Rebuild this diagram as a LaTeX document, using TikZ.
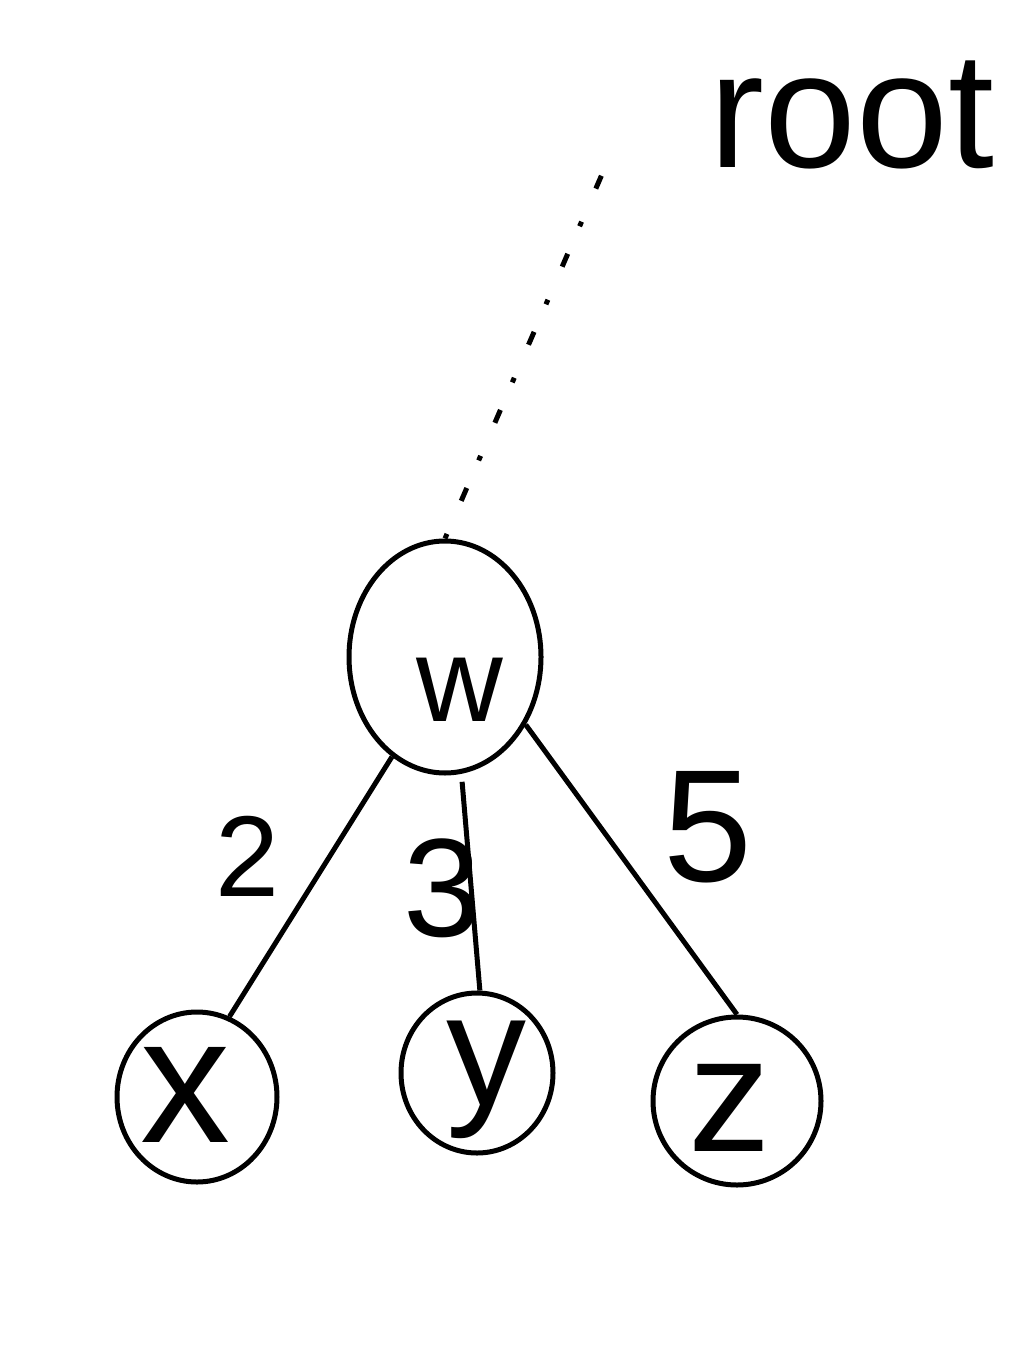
\documentclass[tikz,border=0pt]{standalone}
\usepackage{fontspec}
\setmainfont{Liberation Sans}
\usetikzlibrary{shapes.geometric}
\begin{document}
\begin{tikzpicture}[x=1pt,y=-1pt,
  vert/.style={draw, ellipse, inner sep=0pt, line width=5pt},
  hand/.style={font=\fontsize{#1}{#1}\selectfont, inner sep=0pt},
  treeedge/.style={draw, line width=5pt},
  rootlink/.style={line width=5pt, dash pattern=on 5pt off 36pt on 14pt off 30pt},
]
\path[fill=white] (0,0) rectangle (1012,1364);
\useasboundingbox (0,0) rectangle (1012,1364);

% vertices
\node[vert, minimum width=192pt, minimum height=232pt] (w) at (445,657) {};
\node[vert, minimum width=160pt, minimum height=170pt] (x) at (197,1097) {};
\node[vert, minimum width=152pt, minimum height=160pt] (y) at (477,1073) {};
\node[vert, minimum width=168pt, minimum height=168pt] (z) at (737,1101) {};

% vertex texts
\node[hand=120pt] (wt) at (460,690) {w};
\node[hand=180pt] (xt) at (185,1095) {x};
\node[hand=160pt] (yt) at (486,1080) {y};
\node[hand=165pt] (zt) at (730,1108) {z};

% root label
\node[hand=165pt] (root) at (852,115) {root};
\coordinate (rootend) at (606,165);

% edges
\draw[treeedge] (w.-118) -- (x.68);
\draw[treeedge, shorten <=8pt] (w.-82) -- (y.88);
\draw[treeedge] (w.-40) -- (z.north);
\draw[rootlink] (w.north) -- (rootend);

% edge labels
\node[hand=115pt] (l2) at (247,856) {2};
\node[hand=140pt] (l3) at (442,888) {3};
\node[hand=160pt] (l5) at (708,827) {5};
\end{tikzpicture}
\end{document}
